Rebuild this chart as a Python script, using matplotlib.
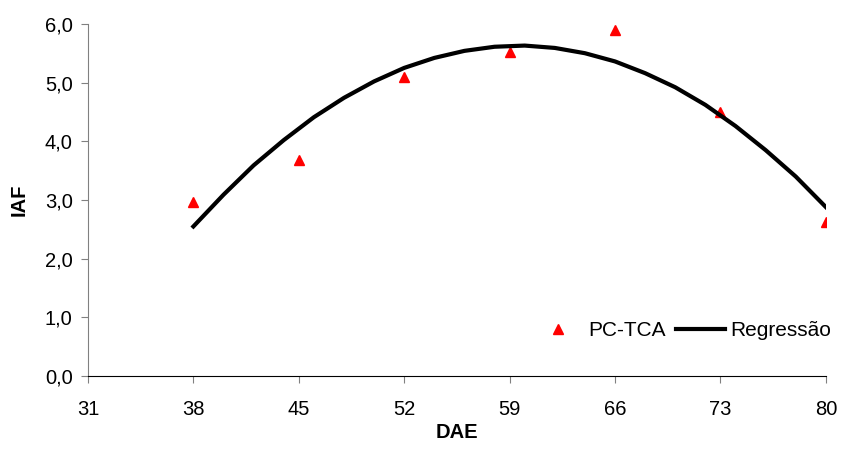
import matplotlib
matplotlib.use("Agg")
import matplotlib.pyplot as plt

# observed IAF (PC-TCA)
dae_obs = [38, 45, 52, 59, 66, 73, 80]
iaf_obs = [2.97, 3.68, 5.10, 5.52, 5.90, 4.50, 2.62]

# regression curve
dae_reg = [38, 40, 42, 44, 46, 48, 50, 52, 54, 56, 58, 60,
           62, 64, 66, 68, 70, 72, 74, 76, 78, 80]
iaf_reg = [2.55, 3.09, 3.59, 4.02, 4.41, 4.74, 5.02, 5.25, 5.42, 5.54, 5.61, 5.63,
           5.59, 5.50, 5.36, 5.16, 4.92, 4.62, 4.26, 3.85, 3.40, 2.88]

x_ticks = [31, 38, 45, 52, 59, 66, 73, 80]
y_ticks = [0, 1, 2, 3, 4, 5, 6]

plt.rcParams["font.family"] = ["Liberation Sans", "DejaVu Sans"]

fig = plt.figure(figsize=(8.41, 4.5), dpi=100)
ax = fig.add_axes([0.1046, 0.164, 0.8774, 0.783])

ax.plot(dae_obs, iaf_obs, linestyle="None", marker="^", color="#ff0000",
        markersize=7, label="PC-TCA")
ax.plot(dae_reg, iaf_reg, color="black", linewidth=3, label="Regressão")

ax.set_xlim(31, 80)
ax.set_ylim(0, 6)
ax.set_xticks(x_ticks)
ax.set_yticks(y_ticks)
ax.set_yticklabels([f"{v:.1f}".replace(".", ",") for v in y_ticks])
ax.tick_params(labelsize=14.5, direction="out", length=5, color="#808080")
ax.tick_params(axis="x", pad=12)
ax.tick_params(axis="y", pad=6)

for s in ("top", "right"):
    ax.spines[s].set_visible(False)
ax.spines["left"].set_color("#808080")
ax.spines["bottom"].set_color("black")

ax.set_xlabel("DAE", fontsize=14.5, fontweight="bold", labelpad=3)
ax.set_ylabel("IAF", fontsize=14.5, fontweight="bold", labelpad=12)

ax.legend(loc="center left", bbox_to_anchor=(0.604, 0.13), ncol=2, frameon=False,
          fontsize=15, handlelength=2.35, columnspacing=0.5, handletextpad=0.26,
          borderaxespad=0, borderpad=0)

fig.savefig("out.png", dpi=100)
